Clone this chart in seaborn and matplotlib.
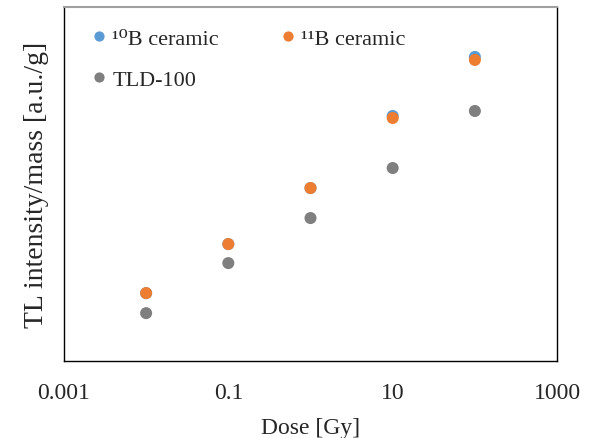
import matplotlib
matplotlib.use("Agg")
import matplotlib.pyplot as plt
import seaborn as sns
import pandas as pd

dose = [0.01, 0.1, 1, 10, 100]
b10 = [68, 117, 173, 245, 304]
b11 = [68, 117, 173, 243, 301]
tld = [48, 98, 143, 193, 250]
labels = ["¹⁰B ceramic", "¹¹B ceramic", "TLD-100"]
colors = ["#5B9BD5", "#ED7D31", "#7F7F7F"]
xticks = [0.001, 0.1, 10, 1000]
xticklabels = ["0.001", "0.1", "10", "1000"]

sns.set_style("white")
plt.rcParams['font.family'] = ['Liberation Serif', 'DejaVu Serif']

df = pd.DataFrame({
    "dose": dose * 3,
    "val": b10 + b11 + tld,
    "series": [labels[0]] * 5 + [labels[1]] * 5 + [labels[2]] * 5,
})

fig = plt.figure(figsize=(5.92, 4.39), dpi=100)
ax = fig.add_axes([0.108, 0.175, 0.833, 0.807])
sns.scatterplot(data=df, x="dose", y="val", hue="series", palette=colors,
                s=75, edgecolor="none", ax=ax, legend=True)
ax.set_xscale("log")
ax.set_xlim(0.001, 1000)
ax.set_ylim(0, 354)
ax.set_xticks(xticks)
ax.set_xticklabels(xticklabels)
ax.minorticks_off()
ax.set_yticks([])
ax.tick_params(axis="x", labelsize=17, length=0, pad=15)
ax.set_xlabel("Dose [Gy]", fontsize=17, labelpad=10)
ax.set_ylabel("TL intensity/mass [a.u./g]", fontsize=20, labelpad=11)
for s in ["left", "bottom", "right"]:
    ax.spines[s].set_color("black")
    ax.spines[s].set_linewidth(1.0)
ax.spines["top"].set_color("#A0A0A0")
ax.spines["top"].set_linewidth(1.5)

h, l = ax.get_legend_handles_labels()
order = [0, 2, 1]
ax.legend([h[i] for i in order], [l[i] for i in order], ncol=2,
          loc="upper left", bbox_to_anchor=(0.008, 0.995),
          frameon=False, fontsize=16, labelspacing=0.9, columnspacing=2.6,
          handletextpad=0.1, markerscale=0.85, handlelength=1.0)
fig.savefig("out.png", dpi=100)
